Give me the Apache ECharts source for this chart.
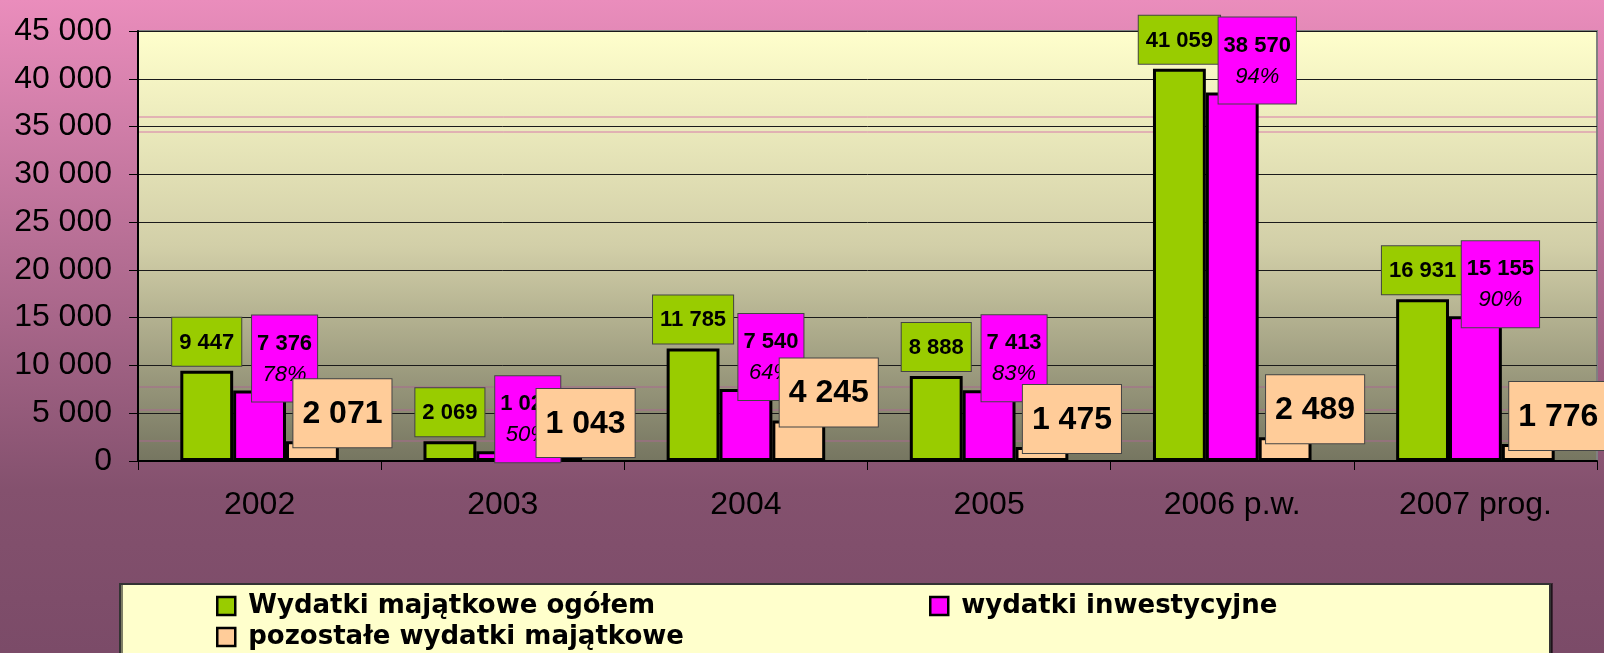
<!DOCTYPE html>
<html lang="pl">
<head>
    <meta charset="UTF-8">
    <title>Wydatki majątkowe</title>
    <style>
        html, body { margin: 0; padding: 0; }
        #chart { width: 1604px; height: 653px; }
    </style>
</head>
<body>
<div id="chart"></div>

<script src="https://cdn.jsdelivr.net/npm/echarts@6/dist/echarts.min.js"></script>
<script>
    // lata
    var years = ['2002', '2003', '2004', '2005', '2006 p.w.', '2007 prog.'];
    // wydatki majątkowe ogółem
    var totalSpend = [9447, 2069, 11785, 8888, 41059, 16931];
    // wydatki inwestycyjne
    var investSpend = [7376, 1025, 7540, 7413, 38570, 15155];
    // pozostałe wydatki majątkowe
    var otherSpend = [2071, 1043, 4245, 1475, 2489, 1776];
    var yTicks = [0, 45000, 5000];

    var names = ['Wydatki majątkowe ogółem', 'wydatki inwestycyjne', 'pozostałe wydatki majątkowe'];

    function fmt(n) {
        return String(n).replace(/\B(?=(\d{3})+(?!\d))/g, ' ');
    }

    var myChart = echarts.init(document.getElementById('chart'));
    var LG = echarts.graphic.LinearGradient;

    var option = {
        animation: false,
        textStyle: { fontFamily: 'Liberation Sans, Arial, sans-serif' },
        backgroundColor: new LG(0, 0, 0, 1, [
            { offset: 0, color: '#EA8DBC' },
            { offset: 0.75, color: '#84516E' },
            { offset: 1, color: '#7B4B68' }
        ]),
        grid: {
            left: 138, right: 7, top: 31, bottom: 192,
            show: true,
            borderColor: '#808080',
            borderWidth: 2,
            backgroundColor: new LG(0, 0, 0, 1, [
                { offset: 0, color: '#FFFFCC' },
                { offset: 0.5, color: '#D2CFA8' },
                { offset: 1, color: '#757560' }
            ])
        },
        graphic: [
            { type: 'line', z: 1, shape: { x1: 139, y1: 117, x2: 1596, y2: 117 }, style: { stroke: '#D77AAA', lineWidth: 1 } },
            { type: 'line', z: 1, shape: { x1: 139, y1: 132, x2: 1596, y2: 132 }, style: { stroke: '#D77AAA', lineWidth: 1 } },
            { type: 'line', z: 1, shape: { x1: 139, y1: 387, x2: 1596, y2: 387 }, style: { stroke: '#A86890', lineWidth: 1 } },
            { type: 'line', z: 1, shape: { x1: 139, y1: 410, x2: 1596, y2: 410 }, style: { stroke: '#A86890', lineWidth: 1 } },
            { type: 'line', z: 1, shape: { x1: 139, y1: 441, x2: 1596, y2: 441 }, style: { stroke: '#A86890', lineWidth: 1 } },
            {
                type: 'rect', z: 0,
                shape: { x: 120, y: 584, width: 1430, height: 80 },
                style: { fill: '#FFFFCC', stroke: '#333333', lineWidth: 2,
                    shadowColor: 'rgba(0,0,0,0.5)', shadowOffsetX: 2, shadowOffsetY: 0, shadowBlur: 0 }
            }
        ],
        legend: [
            { data: [names[0]], left: 216, top: 593 },
            { data: [names[1]], left: 929, top: 593 },
            { data: [names[2]], left: 216, top: 624 }
        ].map(function (l) {
            l.z = 5;
            l.padding = 0;
            l.icon = 'rect';
            l.itemWidth = 18;
            l.itemHeight = 18;
            l.itemGap = 0;
            l.itemStyle = { borderColor: '#000', borderWidth: 2.5 };
            l.textStyle = { fontFamily: 'DejaVu Sans', fontWeight: 'bold', fontSize: 26, color: '#000',
                padding: [0, 0, 0, 8] };
            return l;
        }),
        xAxis: {
            type: 'category',
            data: years,
            axisLine: { lineStyle: { color: '#000', width: 2 } },
            axisTick: { show: true, length: 9, lineStyle: { color: '#000' } },
            axisLabel: { fontSize: 32, color: '#000', margin: 28 }
        },
        yAxis: {
            type: 'value',
            min: yTicks[0], max: yTicks[1], interval: yTicks[2],
            axisLine: { show: true, lineStyle: { color: '#000', width: 2 } },
            axisTick: { show: true, length: 9, lineStyle: { color: '#000' } },
            axisLabel: { fontSize: 32, color: '#000', margin: 26, formatter: fmt },
            splitLine: { lineStyle: { color: '#1a1a1a', width: 1 } }
        },
        series: [
            {
                name: names[0], type: 'bar', data: totalSpend,
                barGap: '0%', barCategoryGap: '34.8%',
                itemStyle: { color: '#99CC00', borderColor: '#000', borderWidth: 3 },
                label: {
                    show: true, position: 'top', distance: 5,
                    formatter: function (p) { return fmt(p.value); },
                    fontSize: 22, fontWeight: 'bold', color: '#000',
                    backgroundColor: '#99CC00', borderColor: '#444', borderWidth: 1,
                    padding: [14, 7, 12, 7]
                }
            },
            {
                name: names[1], type: 'bar', data: investSpend,
                itemStyle: { color: '#FF00FF', borderColor: '#000', borderWidth: 3 },
                label: {
                    show: true, position: 'top', distance: 5, offset: [25, 16],
                    formatter: function (p) {
                        var pct = Math.round(p.value / totalSpend[p.dataIndex] * 100);
                        return '{v|' + fmt(p.value) + '}\n{p|' + pct + '%}';
                    },
                    backgroundColor: '#FF00FF', borderColor: '#444', borderWidth: 1,
                    padding: [12, 5, 12, 5],
                    rich: {
                        v: { fontSize: 22, fontWeight: 'bold', color: '#000', lineHeight: 32 },
                        p: { fontSize: 22, fontStyle: 'italic', color: '#000', lineHeight: 30 }
                    }
                }
            },
            {
                name: names[2], type: 'bar', data: otherSpend,
                itemStyle: { color: '#FFCC99', borderColor: '#000', borderWidth: 3 },
                label: {
                    show: true, position: 'top', distance: 5, offset: [30, 11],
                    formatter: function (p) { return fmt(p.value); },
                    fontSize: 32, fontWeight: 'bold', color: '#000', lineHeight: 38,
                    backgroundColor: '#FFCC99', borderColor: '#444', borderWidth: 1,
                    padding: [16, 9, 14, 9]
                }
            }
        ]
    };

    myChart.setOption(option);
</script>
</body>
</html>
